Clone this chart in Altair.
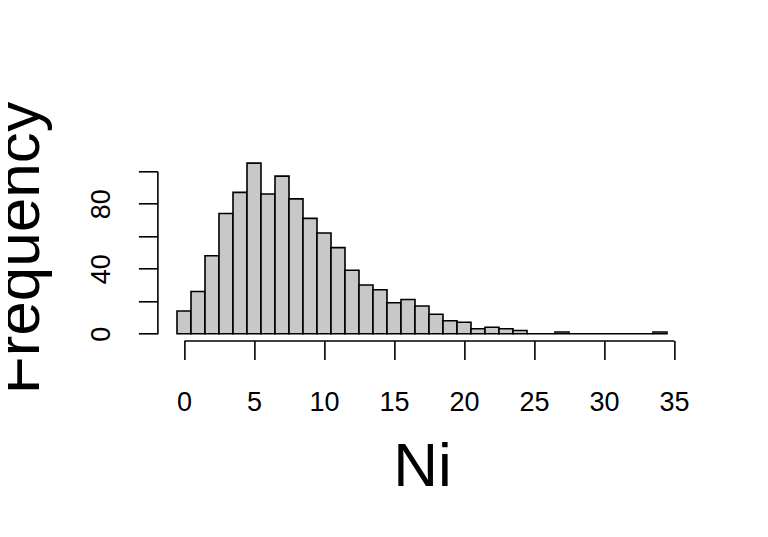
import altair as alt
import pandas as pd

values = list(range(0, 35))
counts = [14, 26, 48, 74, 87, 105, 86, 97, 83, 71,
          62, 53, 39, 30, 27, 19, 21, 17, 12, 8,
          7, 3, 4, 3, 2, 0, 0, 1, 0, 0,
          0, 0, 0, 0, 1]
x_ticks = [0, 5, 10, 15, 20, 25, 30, 35]
y_ticks = [0, 20, 40, 60, 80, 100]

df = pd.DataFrame({"Ni": values, "Frequency": counts})

FONT = "Liberation Sans, Arial, Helvetica, sans-serif"

chart = (
    alt.Chart(df)
    .transform_calculate(lo="datum.Ni - 0.5", hi="datum.Ni + 0.5")
    .mark_rect(fill="#c8c8c8", stroke="black", strokeWidth=1.6)
    .encode(
        x=alt.X(
            "lo:Q",
            scale=alt.Scale(domain=[0, 35], range=[26.6, 516.6], nice=False, zero=False),
            axis=alt.Axis(
                values=x_ticks,
                title="Ni",
                titleFontSize=62,
                titleFontWeight="normal",
                titleBaseline="alphabetic",
                titleAlign="center",
                titleX=264.6,
                titleY=145,
                labelFontSize=27,
                labelBaseline="alphabetic",
                labelPadding=51.5,
                labelFlush=False,
                labelOverlap=False,
            ),
        ),
        x2="hi:Q",
        y=alt.Y(
            "Frequency:Q",
            scale=alt.Scale(domain=[0, 100], range=[177.4, 14.9], nice=False, zero=False),
            axis=alt.Axis(
                values=y_ticks,
                title="Frequency",
                titleFontSize=62,
                titleFontWeight="normal",
                titleAngle=270,
                titleBaseline="alphabetic",
                titleAlign="center",
                titleX=-118.4,
                titleY=91,
                labelFontSize=27,
                labelAngle=270,
                labelAlign="center",
                labelBaseline="alphabetic",
                labelPadding=29,
                labelFlush=False,
                labelOverlap=False,
                labelExpr="datum.value % 40 == 0 ? datum.label : ''",
            ),
        ),
        y2=alt.value(177.4),
    )
    .properties(
        width=529.2,
        height=184.2,
        autosize=alt.AutoSizeParams(type="none"),
        padding={"left": 149.4, "top": 148.3, "right": 60, "bottom": 180},
    )
    .configure_view(stroke=None)
    .configure_axis(
        grid=False,
        domainColor="black",
        domainWidth=1.6,
        tickColor="black",
        tickWidth=1.6,
        tickSize=19,
        labelColor="black",
        titleColor="black",
        labelFont=FONT,
        titleFont=FONT,
    )
)

chart.save("out.html", embed_options={"renderer": "svg", "actions": False})
